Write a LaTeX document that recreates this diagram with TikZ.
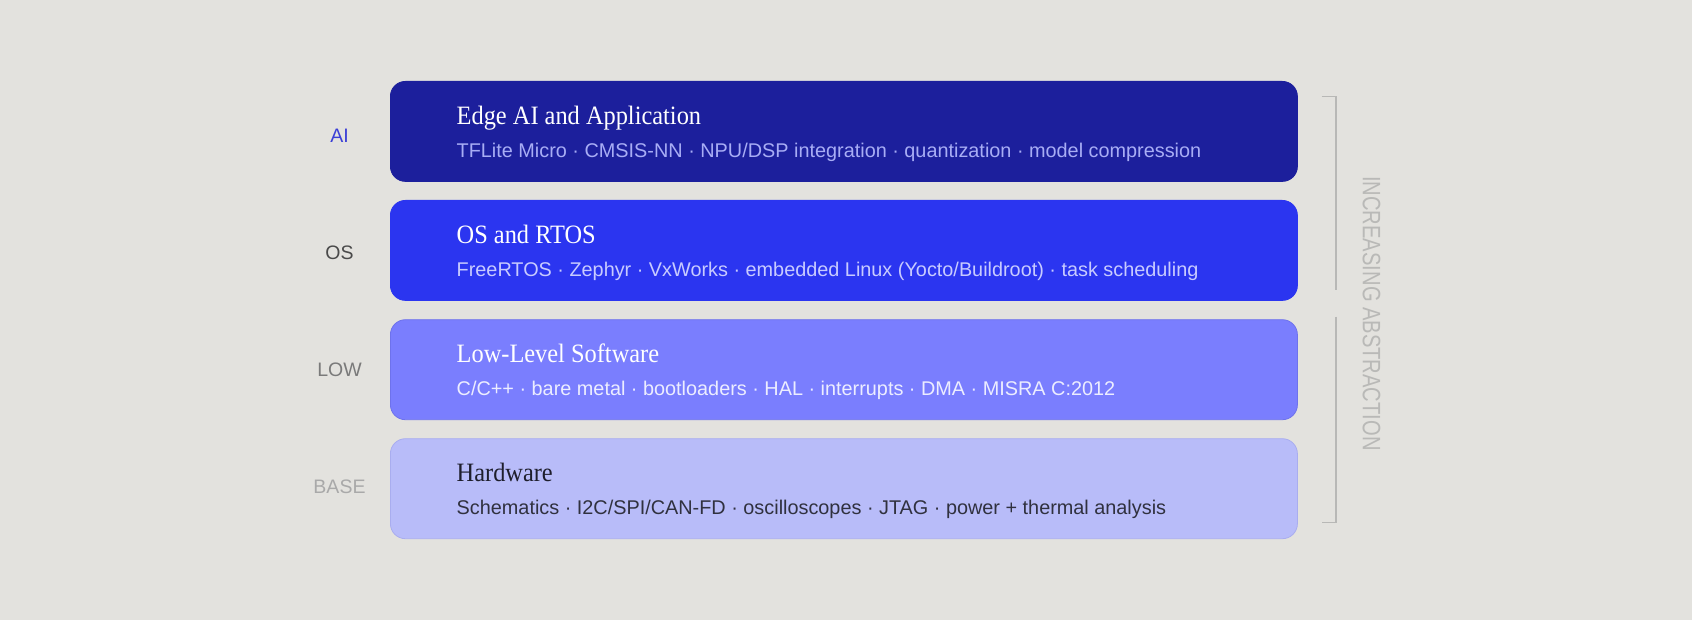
\documentclass[tikz,border=0pt]{standalone}
\usepackage{fontspec}
\setmainfont{Liberation Serif}
\setsansfont{Liberation Sans}
\newfontfamily\titlefont[FakeStretch=0.92]{Liberation Serif}
\newfontfamily\subfont{Liberation Sans}
\newfontfamily\vertfont[FakeStretch=0.8]{Liberation Sans}
\usetikzlibrary{calc}
\definecolor{bg}{HTML}{E3E2DE}
\definecolor{cA}{HTML}{1C1F9C}
\definecolor{cB}{HTML}{2B35F0}
\definecolor{cC}{HTML}{7A7EFE}
\definecolor{cD}{HTML}{B8BCF9}
\definecolor{bC}{HTML}{6E72EC}
\definecolor{bD}{HTML}{A9ADEF}
\definecolor{sA}{HTML}{A8ADF5}
\definecolor{sB}{HTML}{C8CBFF}
\definecolor{sC}{HTML}{ECEDFF}
\definecolor{sD}{HTML}{30313F}
\definecolor{tD}{HTML}{1E1E2C}
\definecolor{lA}{HTML}{3B3FD6}
\definecolor{lB}{HTML}{4A4A4A}
\definecolor{lC}{HTML}{7A7A7A}
\definecolor{lD}{HTML}{A9A9A9}
\definecolor{brk}{HTML}{B8B8B6}
\definecolor{vtxt}{HTML}{B9B9B7}
\tikzset{
  layerbox/.style={rounded corners=15pt, minimum width=907pt, minimum height=100pt, inner sep=0pt, anchor=north west, line width=0.8pt},
  ltitle/.style={anchor=base west, inner sep=0pt, font=\titlefont\fontsize{26.5}{30}\selectfont},
  lsub/.style={anchor=base west, inner sep=0pt, font=\subfont\fontsize{19.85}{24}\selectfont},
  sidelabel/.style={anchor=base, inner sep=0pt, font=\sffamily\fontsize{19.5}{22}\selectfont},
  bracketline/.style={draw=brk, line width=1.4pt},
}
\begin{document}
\begin{tikzpicture}[x=1pt,y=-1pt]
\useasboundingbox[fill=bg] (0,0) rectangle (1692,620);
% layer boxes
\node[layerbox, fill=cA, draw=cA] (b1) at (390,81) {};
\node[layerbox, fill=cB, draw=cB] (b2) at (390,200) {};
\node[layerbox, fill=cC, draw=bC] (b3) at (390,319.3) {};
\node[layerbox, fill=cD, draw=bD] (b4) at (390,438.3) {};
% titles and subtitles
\node[ltitle, text=white] (t1) at ($(b1.north west)+(66.5,43.3)$) {Edge AI and Application};
\node[lsub, text=sA] (s1) at ($(b1.north west)+(66.5,76.3)$) {TFLite Micro · CMSIS-NN · NPU/DSP integration · quantization · model compression};
\node[ltitle, text=white] (t2) at ($(b2.north west)+(66.5,43.3)$) {OS and RTOS};
\node[lsub, text=sB] (s2) at ($(b2.north west)+(66.5,76.3)$) {FreeRTOS · Zephyr · VxWorks · embedded Linux (Yocto/Buildroot) · task scheduling};
\node[ltitle, text=white] (t3) at ($(b3.north west)+(66.5,43.3)$) {Low-Level Software};
\node[lsub, text=sC] (s3) at ($(b3.north west)+(66.5,76.3)$) {C/C++ · bare metal · bootloaders · HAL · interrupts · DMA · MISRA C:2012};
\node[ltitle, text=tD] (t4) at ($(b4.north west)+(66.5,43.3)$) {Hardware};
\node[lsub, text=sD] (s4) at ($(b4.north west)+(66.5,76.3)$) {Schematics · I2C/SPI/CAN-FD · oscilloscopes · JTAG · power + thermal analysis};
% side labels
\node[sidelabel, text=lA] (l1) at (339.5,142.7) {AI};
\node[sidelabel, text=lB] (l2) at (339.5,260) {OS};
\node[sidelabel, text=lC] (l3) at (339.5,376.7) {LOW};
\node[sidelabel, text=lD] (l4) at (339.5,493.3) {BASE};
% bracket
\coordinate (kt0) at (1321.7,96.7);
\coordinate (kt1) at (1336,96.7);
\coordinate (kg0) at (1336,290);
\coordinate (kg1) at (1336,316.7);
\coordinate (kb1) at (1336,522.7);
\coordinate (kb0) at (1321.7,522.7);
\draw[bracketline] (kt0) -- (kt1) -- (kg0);
\draw[bracketline] (kg1) -- (kb1) -- (kb0);
\node[rotate=-90, inner sep=0pt, text=vtxt, font=\vertfont\fontsize{25.2}{28}\selectfont] (vt) at (1371.5,313.5) {INCREASING ABSTRACTION};
\end{tikzpicture}
\end{document}
